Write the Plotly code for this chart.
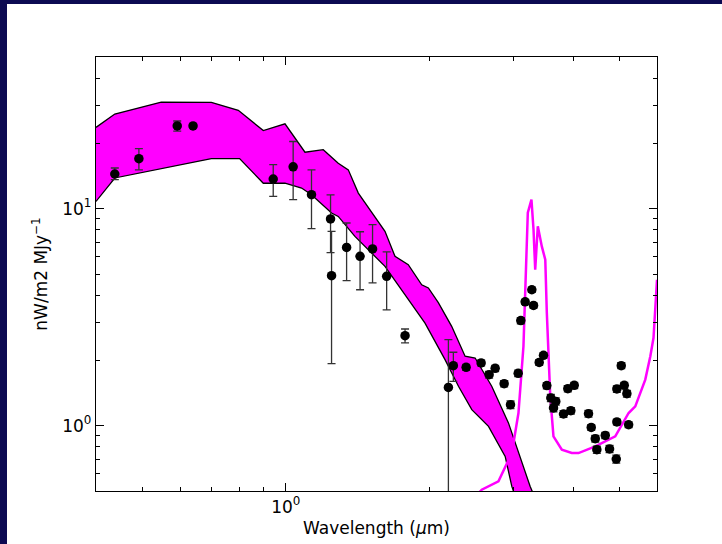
import math
import plotly.graph_objects as go

# ---- data ----
band_upper_x = [0.40, 0.438, 0.548, 0.698, 0.795, 0.897, 0.996, 1.097, 1.198, 1.288, 1.352, 1.419,
                1.614, 1.694, 1.806, 1.927, 1.990, 2.088, 2.227, 2.376, 2.494, 2.702, 2.929, 3.253, 3.35]
band_upper_y = [23.7, 27.3, 31.0, 30.9, 28.4, 22.9, 24.6, 18.2, 18.7, 16.2, 15.1, 11.8,
                7.86, 6.03, 5.52, 4.46, 4.31, 3.69, 2.87, 2.09, 2.05, 1.52, 1.03, 0.525, 0.45]
band_lower_x = [0.40, 0.438, 0.698, 0.80, 0.897, 0.996, 1.079, 1.132, 1.247, 1.288, 1.396, 1.614,
                1.749, 1.958, 2.158, 2.301, 2.454, 2.66, 2.883, 2.977, 3.05]
band_lower_y = [10.8, 13.85, 17.0, 17.0, 13.1, 13.1, 12.45, 11.6, 9.55, 9.21, 7.45, 5.42,
                4.23, 2.97, 2.01, 1.52, 1.185, 0.993, 0.722, 0.525, 0.45]

model_x = [2.45, 2.575, 2.791, 2.977, 3.074, 3.149, 3.216, 3.273, 3.306, 3.333, 3.375, 3.441,
           3.499, 3.525, 3.584, 3.64, 3.79, 3.977, 4.108, 4.454, 4.905, 5.232, 5.403, 5.67,
           5.81, 5.90, 6.0]
model_y = [0.45, 0.507, 0.554, 0.748, 1.144, 2.32, 9.59, 11.0, 8.0, 5.24, 8.29, 6.70,
           5.82, 3.32, 1.364, 0.893, 0.775, 0.748, 0.748, 0.803, 0.893, 1.144, 1.227, 1.63,
           2.09, 2.54, 4.7]

obs_x = [0.438, 0.492, 0.592, 0.639, 0.941, 1.036, 1.132, 1.241, 1.247, 1.341, 1.431, 1.52,
         1.627, 1.778, 2.192, 2.245, 2.388, 2.567, 2.668, 2.747, 2.869, 2.958, 3.07, 3.109,
         3.175, 3.279, 3.306, 3.398, 3.469, 3.525, 3.594, 3.641, 3.681, 3.821, 3.901, 3.958,
         4.024, 4.311, 4.368, 4.454, 4.488, 4.674, 4.772, 4.929, 4.943, 4.943, 5.049, 5.123,
         5.188, 5.232]
obs_y = [14.45, 17.0, 24.05, 24.05, 13.7, 15.6, 11.6, 8.97, 4.91, 6.63, 6.03, 6.52,
         4.88, 2.60, 1.50, 1.89, 1.857, 1.945, 1.718, 1.837, 1.561, 1.25, 1.742, 3.05,
         3.72, 4.23, 3.58, 1.957, 2.11, 1.53, 1.342, 1.207, 1.294, 1.132, 1.48, 1.172,
         1.534, 1.136, 0.982, 0.871, 0.775, 0.902, 0.781, 0.702, 1.04, 1.476, 1.89, 1.534,
         1.404, 1.01]
err_plus = [0.95, 1.9, 1.3, 0.5, 2.25, 4.8, 3.5, 2.6, 2.95, 1.96, 1.8, 1.92,
            1.44, 0.19, 0.99, 0.29, 0.06, 0.06, 0.06, 0.06, 0.05, 0.05, 0.06, 0.1,
            0.1, 0.12, 0.1, 0.06, 0.06, 0.05, 0.05, 0.05, 0.05, 0.04, 0.05, 0.04,
            0.05, 0.04, 0.03, 0.03, 0.03, 0.03, 0.03, 0.03, 0.03, 0.05, 0.06, 0.05,
            0.05, 0.03]
err_minus = [0.85, 1.9, 1.3, 0.5, 2.3, 4.6, 3.5, 2.7, 2.98, 1.97, 1.8, 1.97,
             1.46, 0.19, 1.49, 0.29, 0.06, 0.06, 0.06, 0.06, 0.05, 0.05, 0.06, 0.1,
             0.1, 0.12, 0.1, 0.06, 0.06, 0.05, 0.05, 0.05, 0.05, 0.04, 0.05, 0.04,
             0.05, 0.04, 0.03, 0.03, 0.03, 0.03, 0.03, 0.03, 0.03, 0.05, 0.06, 0.05,
             0.05, 0.03]

x_range = [0.4, 6.0]
y_range = [0.5, 50.0]
x_major = [1.0]
x_major_text = ["10<sup>0</sup>"]
x_minor = [0.4, 0.5, 0.6, 0.7, 0.8, 0.9, 2, 3, 4, 5, 6]
y_major = [1.0, 10.0]
y_major_text = ["10<sup>0</sup>", "10<sup>1</sup>"]
y_minor = [0.5, 0.6, 0.7, 0.8, 0.9, 2, 3, 4, 5, 6, 7, 8, 9, 20, 30, 40, 50]

MAGENTA = "#ff00ff"
NAVY = "#0c0a52"
FONT = "DejaVu Sans"
FS = 17

fig = go.Figure()

# band polygon: upper edge then reversed lower edge
fig.add_trace(go.Scatter(
    x=band_upper_x + band_lower_x[::-1],
    y=band_upper_y + band_lower_y[::-1],
    mode="lines", fill="toself", fillcolor=MAGENTA,
    line=dict(color="black", width=1.3), hoverinfo="skip", showlegend=False))

fig.add_trace(go.Scatter(
    x=model_x, y=model_y, mode="lines",
    line=dict(color=MAGENTA, width=2.5), showlegend=False))

fig.add_trace(go.Scatter(
    x=obs_x, y=obs_y, mode="markers",
    marker=dict(color="black", size=9.5),
    error_y=dict(type="data", symmetric=False, array=err_plus, arrayminus=err_minus,
                 color="#333333", thickness=1.3, width=4),
    showlegend=False))

axis_common = dict(
    type="log", showgrid=False, zeroline=False,
    showline=True, linecolor="black", linewidth=1.3, mirror="ticks",
    ticks="inside", ticklen=8, tickwidth=1, tickcolor="black",
    tickfont=dict(family=FONT, size=FS, color="black"),
    tickmode="array",
)

fig.update_xaxes(
    **axis_common,
    range=[math.log10(x_range[0]), math.log10(x_range[1])],
    tickvals=x_major, ticktext=x_major_text,
    minor=dict(tickvals=x_minor, ticks="inside", ticklen=4, tickwidth=1, tickcolor="black"),
    title=dict(text="Wavelength (<i>μ</i>m)", font=dict(family=FONT, size=FS, color="black"),
               standoff=6),
)
fig.update_yaxes(
    **axis_common,
    range=[math.log10(y_range[0]), math.log10(y_range[1])],
    tickvals=y_major, ticktext=y_major_text,
    minor=dict(tickvals=y_minor, ticks="inside", ticklen=4, tickwidth=1, tickcolor="black"),
    title=dict(text="nW/m2 MJy<sup>−1</sup>", font=dict(family=FONT, size=FS, color="black"),
               standoff=10),
)

L, R, T, B = 96, 65, 57, 53
W, H = 722, 544
pw, ph = W - L - R, H - T - B
fig.add_shape(type="rect", xref="paper", yref="paper", layer="below",
              x0=(7 - L) / pw, x1=(W - L + 20) / pw,
              y0=-(B + 20) / ph, y1=1 + (T - 4) / ph,
              fillcolor="white", line=dict(width=0))

fig.update_layout(
    width=W, height=H,
    margin=dict(l=L, r=R, t=T, b=B, autoexpand=False),
    paper_bgcolor=NAVY, plot_bgcolor="white",
    font=dict(family=FONT, size=FS, color="black"),
    showlegend=False,
)

fig.write_html("out.html",
               config={"displayModeBar": False},
               post_script="document.body.style.margin='0';document.body.style.overflow='hidden';")
